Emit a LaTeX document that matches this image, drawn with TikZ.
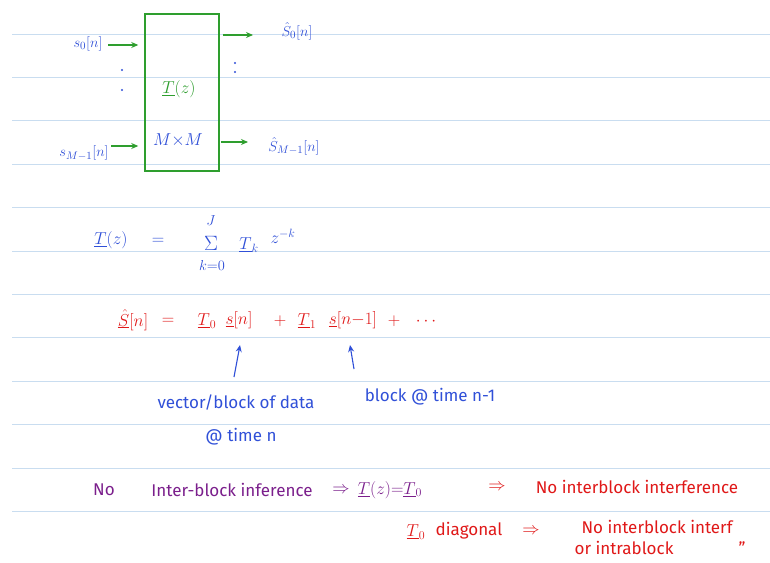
\documentclass[tikz,border=0pt]{standalone}
\usepackage{fontspec}
\setmainfont{Fira Sans}
\usetikzlibrary{arrows.meta,calc}
\definecolor{rulec}{HTML}{C9DDF0}
\definecolor{pgreen}{HTML}{2E9E2E}
\definecolor{pblue}{HTML}{3050D8}
\definecolor{pred}{HTML}{E01818}
\definecolor{ppurple}{HTML}{7B1F8C}
\tikzset{
  lbl/.style={inner sep=0pt, font=\fontsize{17}{20}\selectfont},
  sml/.style={inner sep=0pt, font=\fontsize{15}{18}\selectfont},
  blu/.style={lbl, text=pblue},
  rd/.style={lbl, text=pred},
  pur/.style={lbl, text=ppurple},
  grn/.style={lbl, text=pgreen},
  rulel/.style={rulec, line width=0.9pt},
  garrow/.style={pgreen, line width=1.4pt, -{Stealth[length=7pt,width=6pt]}},
  barrow/.style={pblue, line width=1.1pt, -{Stealth[length=7pt,width=6pt]}},
  boxst/.style={draw=pgreen, line width=1.5pt, minimum width=74pt, minimum height=157pt, inner sep=0pt}
}
\begin{document}
\begin{tikzpicture}[x=1pt,y=-1pt]
\useasboundingbox (0,0) rectangle (770,562);
\fill[white] (0,0) rectangle (770,562);
% ruled lines
\foreach \i in {0,...,11} {
  \draw[rulel] (12,{34+43.4*\i}) -- (770,{34+43.4*\i});
}
% block
\node[boxst] (box) at (182,92.5) {};
\node[grn] (Tz) at (179,89) {$\underline{T}(z)$};
\node[blu] (mm) at (178,140) {$M{\times}M$};
% inputs
\node[blu, sml] (s0in) at (88,44) {$s_0[n]$};
\node[blu, sml] (sMin) at (84,153) {$s_{M-1}[n]$};
\coordinate (in0) at (108,45);
\coordinate (inM) at (111,146);
\draw[garrow, shorten >=6pt] (in0) -- (in0 -| box.west);
\draw[garrow, shorten >=6pt] (inM) -- (inM -| box.west);
\fill[pblue] (122,70) circle (1.2pt);
\fill[pblue] (122,90) circle (1.2pt);
% outputs
\coordinate (out0) at (253,35);
\coordinate (outM) at (248,142);
\draw[garrow, shorten <=3pt] (out0 -| box.east) -- (out0);
\draw[garrow, shorten <=1pt] (outM -| box.east) -- (outM);
\node[blu, sml] (sh0) at (297,31) {$\hat{S}_0[n]$};
\node[blu, sml] (shM) at (294,146) {$\hat{S}_{M-1}[n]$};
\fill[pblue] (235,63) circle (1.2pt);
\fill[pblue] (235,72) circle (1.2pt);
% equation 1
\node[blu] (eqTz) at (111,240) {$\underline{T}(z)$};
\node[blu] (eq1) at (158,241) {$=$};
\node[blu, font=\fontsize{21}{24}\selectfont] (sum) at (211,243) {$\Sigma$};
\node[blu, sml] (J) at (211,221) {$J$};
\node[blu, sml] (k0) at (212,265) {$k{=}0$};
\node[blu] (Tk) at (249,245) {$\underline{T}_k$};
\node[blu] (zk) at (283,236) {$z^{-k}$};
% equation 2
\node[rd] (Sh) at (133,320) {$\underline{\hat{S}}[n]$};
\node[rd] (eq2) at (168,321) {$=$};
\node[rd] (T0) at (207,321) {$\underline{T}_0$};
\node[rd] (sn) at (239,320) {$\underline{s}[n]$};
\node[rd] (p1) at (280,321) {$+$};
\node[rd] (T1) at (307,321) {$\underline{T}_1$};
\node[rd] (sn1) at (353,320) {$\underline{s}[n{-}1]$};
\node[rd] (p2) at (394,321) {$+$};
\node[rd] (dots) at (426,322) {$\cdots$};
% annotations
\node[blu] (vb) at (236,403) {vector/block of data};
\node[blu] (tn) at (241,437) {@ time n};
\node[blu] (bt) at (430,397) {block @ time n-1};
\coordinate (a1) at (234,377);
\coordinate (a2) at (354,369);
\draw[barrow] (a1) -- (240,345);
\draw[barrow] (a2) -- (350,345);
% row 3
\node[pur] (no) at (104,490) {No};
\node[pur] (ibi) at (232,490) {Inter-block inference};
\node[pur] (imp1) at (341,490) {$\Rightarrow$};
\node[pur] (TzT0) at (390,490) {$\underline{T}(z){=}\underline{T}_0$};
\node[rd] (imp2) at (497,487) {$\Rightarrow$};
\node[rd] (nii) at (637,487) {No interblock interference};
% row 4
\node[rd] (T0b) at (416,532) {$\underline{T}_0$};
\node[rd] (diag) at (469,531) {diagonal};
\node[rd] (imp3) at (531,531) {$\Rightarrow$};
\node[rd] (nii2) at (657,527) {No interblock interf};
\node[rd] (intra) at (624,548) {or intrablock};
\node[rd] (ditto) at (742,548) {''};
\end{tikzpicture}
\end{document}
